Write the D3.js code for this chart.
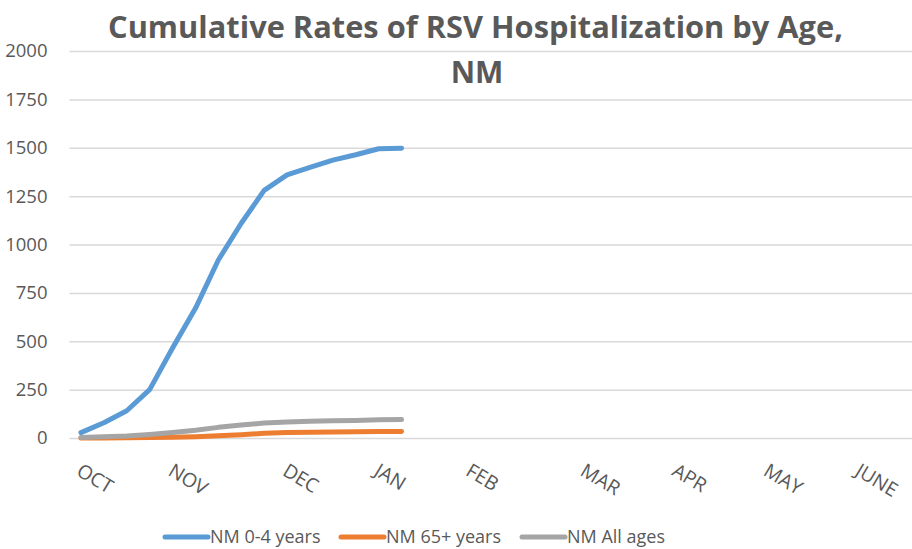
<!DOCTYPE html>
<html>
<head>
<meta charset="utf-8">
<script src="https://cdn.jsdelivr.net/npm/d3@7"></script>
<style>
  body { margin: 0; background: #fff; }
  svg { display: block; font-family: "Open Sans", sans-serif; }
</style>
</head>
<body>
<div id="chart"></div>
<script>
// weekly categories, month names only on the first week of each month
const weekLabels = [
    'OCT', '', '', '', 'NOV', '', '', '', '', 'DEC', '', '', '', 'JAN', '', '', '',
    'FEB', '', '', '', '', 'MAR', '', '', '', 'APR', '', '', '', 'MAY', '', '', '',
    'JUNE', '', ''
];
const yTicks = [0, 250, 500, 750, 1000, 1250, 1500, 1750, 2000];

const age0to4 = [28, 79, 141, 250, 465, 670, 920, 1110, 1280, 1360, 1398, 1436, 1464, 1495, 1498];
const age65plus = [0, 0, 1, 2, 4, 7, 12, 17, 24, 28, 30, 31, 32, 33, 34];
const allAges = [3, 6, 10, 18, 28, 40, 55, 67, 77, 83, 86, 89, 91, 94, 95];

const seriesNames = ['NM 0-4 years', 'NM 65+ years', 'NM All ages'];
const seriesColors = ['#5B9BD5', '#ED7D31', '#A5A5A5'];

const W = 912, H = 549;
const margin = { top: 51, left: 69.5, bottom: 111 };
const plotW = 37 * 22.9;
const plotH = H - margin.top - margin.bottom;

const svg = d3.select('#chart').append('svg')
    .attr('width', W)
    .attr('height', H);

const x = d3.scaleBand()
    .domain(weekLabels.map((d, i) => i))
    .range([margin.left, margin.left + plotW])
    .padding(0);

const y = d3.scaleLinear()
    .domain([0, 2000])
    .range([margin.top + plotH, margin.top]);

// gridlines + y labels
const yAxis = svg.append('g')
    .attr('transform', `translate(${margin.left},0)`)
    .call(d3.axisLeft(y).tickValues(yTicks).tickFormat(d3.format('d'))
        .tickSize(-plotW).tickPadding(22));
yAxis.select('.domain').remove();
yAxis.selectAll('.tick line')
    .attr('stroke', '#D9D9D9')
    .attr('stroke-width', 1.5);
yAxis.selectAll('.tick text')
    .attr('fill', '#595959')
    .style('font-size', '18.5px')
    .style('font-family', '"Open Sans", sans-serif');

// x labels, rotated
const xAxis = svg.append('g')
    .attr('transform', `translate(0,${margin.top + plotH})`)
    .call(d3.axisBottom(x).tickSize(0).tickFormat(i => weekLabels[i]));
xAxis.select('.domain').remove();
xAxis.selectAll('.tick text')
    .attr('fill', '#595959')
    .style('font-size', '19.5px')
    .style('font-family', '"Open Sans", sans-serif')
    .attr('text-anchor', 'start')
    .attr('dominant-baseline', 'hanging')
    .attr('x', 3)
    .attr('y', 22)
    .attr('dy', 0)
    .attr('transform', 'rotate(31, 3, 22)');

// lines
const allSeries = [age0to4, age65plus, allAges];
const line = d3.line()
    .x((d, i) => x(i) + x.bandwidth() / 2)
    .y(d => y(d));

allSeries.forEach((s, k) => {
    svg.append('path')
        .datum(s)
        .attr('fill', 'none')
        .attr('stroke', seriesColors[k])
        .attr('stroke-width', 5)
        .attr('stroke-linejoin', 'round')
        .attr('stroke-linecap', 'round')
        .attr('d', line);
});

// title
const title = svg.append('g').attr('fill', '#595959')
    .style('font-weight', 'bold')
    .style('font-size', '30px');
title.append('text')
    .attr('x', 108)
    .attr('y', 38)
    .attr('textLength', 735)
    .attr('lengthAdjust', 'spacingAndGlyphs')
    .text('Cumulative Rates of RSV Hospitalization by Age,');
title.append('text')
    .attr('x', 477)
    .attr('y', 83)
    .attr('text-anchor', 'middle')
    .text('NM');

// legend
const legendX = [165, 341, 522];
const legend = svg.append('g')
    .attr('transform', `translate(0,537)`);
seriesNames.forEach((name, k) => {
    const g = legend.append('g').attr('transform', `translate(${legendX[k]},0)`);
    g.append('line')
        .attr('x1', 0).attr('x2', 43)
        .attr('stroke', seriesColors[k])
        .attr('stroke-width', 5)
        .attr('stroke-linecap', 'round');
    g.append('text')
        .attr('x', 45)
        .attr('dy', '0.35em')
        .attr('fill', '#595959')
        .style('font-size', '18px')
        .text(name);
});
</script>
</body>
</html>
